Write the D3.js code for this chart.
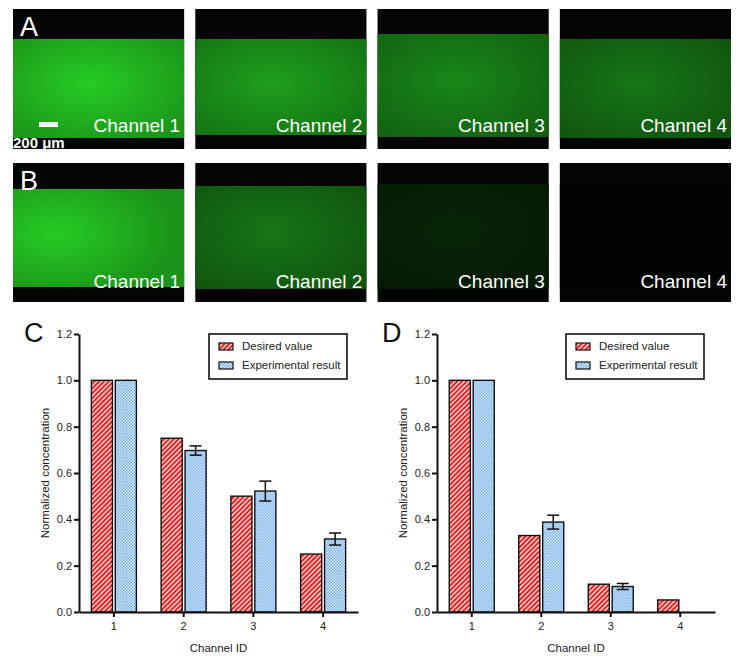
<!DOCTYPE html>
<html>
<head>
<meta charset="utf-8">
<title></title>
<style>
  body { margin: 0; background: #fff; }
  svg { display: block; font-family: Arial, "Liberation Sans", sans-serif; }
</style>
</head>
<body>
<svg id="chart" width="738" height="660"></svg>

<script src="https://d3js.org/d3.v7.min.js"></script>
<script>
// ---- data ----
const channels = ["1", "2", "3", "4"];
const channelNames = ["Channel 1", "Channel 2", "Channel 3", "Channel 4"];
const seriesNames = ["Desired value", "Experimental result"];

// relative fluorescence brightness of the micrographs
const brightA = [1.0, 0.78, 0.66, 0.58];
const brightB = [1.0, 0.58, 0.18, 0.02];

// panel C
const desiredC = [1.0, 0.75, 0.5, 0.25];
const expC = [1.0, 0.697, 0.522, 0.315];
const errC = [0, 0.02, 0.043, 0.026];

// panel D
const desiredD = [1.0, 0.33, 0.12, 0.052];
const expD = [1.0, 0.388, 0.11, 0];
const errD = [0, 0.03, 0.013, 0];

const yTicks = [0, 0.2, 0.4, 0.6, 0.8, 1.0, 1.2];

const svg = d3.select("#chart");
const defs = svg.append("defs");

// ---- micrograph panels ----
const px = d3.scaleBand().domain(channels).range([13, 731]).paddingInner(0.061);
const rows = [
  {id: "A", top: 9, h: 140, bright: brightA, bandTop: [30, 30, 25, 30], bandBot: [129, 126, 128, 129]},
  {id: "B", top: 163, h: 139, bright: brightB, bandTop: [26, 23, 21, 21], bandBot: [124, 126, 126, 126]}
];
const green = d3.interpolateRgb("#000000", "#26cc24");

rows.forEach(row => {
  const g = svg.append("g").attr("transform", `translate(0,${row.top})`);
  channels.forEach((c, i) => {
    const x = px(c), w = px.bandwidth();
    const b = row.bright[i];
    const gid = `grad-${row.id}-${i}`;
    const rg = defs.append("radialGradient").attr("id", gid)
      .attr("cx", row.id === "B" && i === 0 ? "25%" : "45%").attr("cy", "45%").attr("r", "70%");
    rg.append("stop").attr("offset", "0%").attr("stop-color", green(Math.min(1, b)));
    rg.append("stop").attr("offset", "100%").attr("stop-color", green(b * 0.72));

    g.append("rect").attr("x", x).attr("y", 0).attr("width", w).attr("height", row.h)
      .attr("fill", "#030503");
    g.append("rect").attr("x", x).attr("y", row.bandTop[i]).attr("width", w)
      .attr("height", row.bandBot[i] - row.bandTop[i]).attr("fill", `url(#${gid})`);
    g.append("text").attr("x", x + w - 4).attr("y", row.id === "A" ? 123 : 125)
      .attr("text-anchor", "end").attr("fill", "#fff").attr("font-size", 19)
      .text(channelNames[i]);
  });
  g.append("text").attr("x", 20).attr("y", 27).attr("fill", "#fff")
    .attr("font-size", 27).text(row.id);
});

// scale bar
svg.append("rect").attr("x", 39).attr("y", 122).attr("width", 19).attr("height", 5).attr("fill", "#fff");
svg.append("text").attr("x", 13).attr("y", 148).attr("fill", "#fff")
  .attr("font-size", 15).attr("font-weight", "bold").text("200 μm");

// ---- patterns ----
const stripe = defs.append("pattern").attr("id", "stripes")
  .attr("patternUnits", "userSpaceOnUse").attr("width", 3.4).attr("height", 3.4)
  .attr("patternTransform", "rotate(45)");
stripe.append("rect").attr("width", 3.4).attr("height", 3.4).attr("fill", "#fde6e6");
stripe.append("rect").attr("width", 2.0).attr("height", 3.4).attr("fill", "#ea1c1c");

const checks = defs.append("pattern").attr("id", "checks")
  .attr("patternUnits", "userSpaceOnUse").attr("width", 3).attr("height", 3);
checks.append("rect").attr("width", 3).attr("height", 3).attr("fill", "#62a8ee");
checks.append("rect").attr("width", 1.5).attr("height", 1.5).attr("fill", "#eef5fd");
checks.append("rect").attr("x", 1.5).attr("y", 1.5).attr("width", 1.5).attr("height", 1.5).attr("fill", "#eef5fd");

const fills = ["url(#stripes)", "url(#checks)"];

// ---- bar charts ----
function barChart(opt) {
  const {left, right, top, bottom, label, desired, exp, err, legendX} = opt;
  const g = svg.append("g");
  const x = d3.scaleBand().domain(channels).range([left, right]);
  const x1 = d3.scaleBand().domain(seriesNames).range([-22.5, 22.5]).paddingInner(0.12);
  const y = d3.scaleLinear().domain([0, 1.2]).range([bottom, top]);

  const rowsData = channels.map((c, i) => ({c, vals: [desired[i], exp[i]], err: err[i]}));

  const grp = g.selectAll("g.grp").data(rowsData).join("g")
    .attr("transform", d => `translate(${x(d.c) + x.bandwidth() / 2},0)`);
  grp.selectAll("rect").data(d => d.vals.map((v, k) => ({v, k})).filter(e => e.v > 0)).join("rect")
    .attr("x", e => x1(seriesNames[e.k]))
    .attr("y", e => y(e.v))
    .attr("width", x1.bandwidth())
    .attr("height", e => y(0) - y(e.v))
    .attr("fill", e => fills[e.k])
    .attr("stroke", "#111").attr("stroke-width", 1.4);

  // error bars on experimental result
  const eb = grp.filter(d => d.err > 0).append("g")
    .attr("stroke", "#111").attr("stroke-width", 1.5);
  const cx = x1(seriesNames[1]) + x1.bandwidth() / 2;
  eb.append("line").attr("x1", cx).attr("x2", cx)
    .attr("y1", d => y(d.vals[1] + d.err)).attr("y2", d => y(d.vals[1] - d.err));
  eb.append("line").attr("x1", cx - 6).attr("x2", cx + 6)
    .attr("y1", d => y(d.vals[1] + d.err)).attr("y2", d => y(d.vals[1] + d.err));
  eb.append("line").attr("x1", cx - 6).attr("x2", cx + 6)
    .attr("y1", d => y(d.vals[1] - d.err)).attr("y2", d => y(d.vals[1] - d.err));

  // axes
  const yAxis = g.append("g").attr("transform", `translate(${left},0)`)
    .call(d3.axisLeft(y).tickValues(yTicks).tickFormat(d3.format(".1f")).tickSize(5).tickSizeOuter(0));
  const xAxis = g.append("g").attr("transform", `translate(0,${bottom})`)
    .call(d3.axisBottom(x).tickSize(5).tickSizeOuter(0));
  [yAxis, xAxis].forEach(a => {
    a.select(".domain").attr("stroke", "#111").attr("stroke-width", 2);
    a.selectAll(".tick line").attr("stroke", "#111").attr("stroke-width", 2);
    a.selectAll("text").attr("font-size", 11).attr("fill", "#222")
      .attr("font-family", "Arial, 'Liberation Sans', sans-serif");
  });
  yAxis.selectAll("text").attr("x", -7);
  xAxis.selectAll("text").attr("y", 10);

  g.append("text").attr("x", (left + right) / 2).attr("y", bottom + 40)
    .attr("text-anchor", "middle").attr("font-size", 11.5).attr("fill", "#222").text("Channel ID");
  g.append("text").attr("transform", `translate(${left - 30},${(top + bottom) / 2}) rotate(-90)`)
    .attr("text-anchor", "middle").attr("font-size", 11.5).attr("fill", "#222").text("Normalized concentration");
  g.append("text").attr("x", left - 55).attr("y", top + 8).attr("font-size", 27).attr("fill", "#111").text(label);

  // legend
  const lg = g.append("g").attr("transform", `translate(${legendX},${top})`);
  lg.append("rect").attr("width", 138).attr("height", 45).attr("fill", "#fff")
    .attr("stroke", "#111").attr("stroke-width", 1.6);
  seriesNames.forEach((s, k) => {
    const yy = 12 + k * 19;
    lg.append("rect").attr("x", 10).attr("y", yy - 3).attr("width", 14).attr("height", 7)
      .attr("fill", fills[k]).attr("stroke", "#111").attr("stroke-width", 1.2);
    lg.append("text").attr("x", 33).attr("y", yy + 4).attr("font-size", 11.5).attr("fill", "#222").text(s);
  });
}

barChart({left: 79, right: 358, top: 334, bottom: 612, label: "C",
  desired: desiredC, exp: expC, err: errC, legendX: 209});
barChart({left: 437, right: 715, top: 334, bottom: 612, label: "D",
  desired: desiredD, exp: expD, err: errD, legendX: 566});
</script>
</body>
</html>
